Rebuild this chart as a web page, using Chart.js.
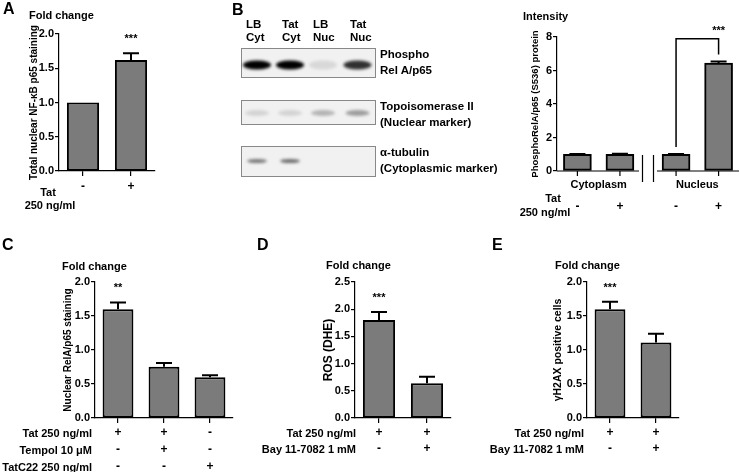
<!DOCTYPE html>
<html>
<head>
<meta charset="utf-8">
<script src="https://cdn.jsdelivr.net/npm/chart.js@4.4.1/dist/chart.umd.min.js"></script>
<style>
body{margin:0;width:740px;height:472px;background:#fff;position:relative;overflow:hidden;
  font-family:"Liberation Sans",Arial,Helvetica,sans-serif;font-weight:bold;color:#000}
canvas{position:absolute}
.t{position:absolute;white-space:nowrap;line-height:14px}
</style>
</head>
<body>
<script>
const FONT = '"Liberation Sans", Arial, Helvetica, sans-serif';
const GRAY = '#7b7b7b';

// A - total nuclear NF-kB p65
const aSigns = [['-', '+']];
const aValues = [1.0, 1.62];
const aErrors = [0, 0.1];
const aStars = ['', '***'];
const aTicks = [0, 0.5, 1.0, 1.5, 2.0];

// B - western blot
const blotLanes = [['LB', 'Cyt'], ['Tat', 'Cyt'], ['LB', 'Nuc'], ['Tat', 'Nuc']];
const blotNames = [['Phospho', 'Rel A/p65'], ['Topoisomerase II', '(Nuclear marker)'], ['\u03b1-tubulin', '(Cytoplasmic marker)']];
const blotBands = [[1.0, 1.0, 0.1, 0.8], [0.12, 0.12, 0.25, 0.35], [0.5, 0.55, 0, 0]];

// B - intensity
const bGroups = ['Cytoplasm', 'Cytoplasm', 'Nucleus', 'Nucleus'];
const bSigns = [['-', '+', '-', '+']];
const bValues = [1.0, 1.0, 1.0, 6.45];
const bErrors = [0.02, 0.03, 0.02, 0.08];
const bTicks = [0, 2, 4, 6, 8];
const bBracket = {from: 2, to: 3, left: 1.43, top: 7.9, right: 6.95, text: '***'};

// C
const cRows = ['Tat 250 ng/ml', 'Tempol 10 \u03bcM', 'TatC22 250 ng/ml'];
const cSigns = [['+', '+', '-'], ['-', '+', '-'], ['-', '-', '+']];
const cValues = [1.6, 0.755, 0.6];
const cErrors = [0.1, 0.055, 0.03];
const cStars = ['**', '', ''];
const cTicks = [0, 0.5, 1.0, 1.5, 2.0];

// D
const dRows = ['Tat 250 ng/ml', 'Bay 11-7082 1 mM'];
const dSigns = [['+', '+'], ['-', '+']];
const dValues = [1.8, 0.64];
const dErrors = [0.15, 0.12];
const dStars = ['***', ''];
const dTicks = [0, 0.5, 1.0, 1.5, 2.0, 2.5];

// E
const eRows = ['Tat 250 ng/ml', 'Bay 11-7082 1 mM'];
const eSigns = [['+', '+'], ['-', '+']];
const eValues = [1.6, 1.11];
const eErrors = [0.11, 0.13];
const eStars = ['***', ''];
const eTicks = [0, 0.5, 1.0, 1.5, 2.0];


function label(text, x, y, size, align) {
    const d = document.createElement('div');
    d.className = 't';
    d.textContent = text;
    d.style.fontSize = size + 'px';
    d.style.top = (y - 7) + 'px';
    if (align === 'right') {
        d.style.right = (740 - x) + 'px';
    } else if (align === 'center') {
        d.style.left = x + 'px';
        d.style.transform = 'translateX(-50%)';
    } else {
        d.style.left = x + 'px';
    }
    document.body.appendChild(d);
}

function makeCanvas(box) {
    const cv = document.createElement('canvas');
    cv.width = box.w;
    cv.height = box.h;
    cv.style.left = box.x + 'px';
    cv.style.top = box.y + 'px';
    document.body.appendChild(cv);
    return cv;
}

function yAxis(ticks, width, title, titleSize, fmt) {
    return {
        min: ticks[0],
        max: ticks[ticks.length - 1],
        afterBuildTicks: s => { s.ticks = ticks.map(v => ({value: v})); },
        afterFit: s => { s.width = width; },
        ticks: {color: '#000', font: {family: FONT, size: 11, weight: 'bold'}, padding: 1, callback: fmt},
        grid: {display: true, drawOnChartArea: false, drawTicks: true, tickLength: 4, color: '#000', lineWidth: 1.2},
        border: {display: true, color: '#000', width: 1.2},
        title: {display: true, text: title, color: '#000', padding: 0,
            font: {family: FONT, size: titleSize, weight: 'bold', lineHeight: 1.2}}
    };
}

// error bars, stars and +/- rows
const marks = {
    id: 'marks',
    afterDatasetsDraw(chart, args, o) {
        const ctx = chart.ctx;
        const y = chart.scales.y;
        const bars = chart.getDatasetMeta(0).data;
        ctx.save();
        ctx.strokeStyle = '#000';
        ctx.fillStyle = '#000';
        ctx.lineWidth = 2;
        ctx.textAlign = 'center';
        ctx.textBaseline = 'middle';
        bars.forEach((bar, i) => {
            const top = y.getPixelForValue(o.values[i] + o.errors[i]);
            if (o.errors[i] > 0) {
                ctx.beginPath();
                ctx.moveTo(bar.x, bar.y);
                ctx.lineTo(bar.x, top);
                ctx.moveTo(bar.x - 8, top);
                ctx.lineTo(bar.x + 8, top);
                ctx.stroke();
            }
            if (o.stars && o.stars[i]) {
                ctx.font = 'bold 11px ' + FONT;
                ctx.fillText(o.stars[i], bar.x, top - 14);
            }
        });
        ctx.font = 'bold 12px ' + FONT;
        o.signs.forEach((row, r) => {
            row.forEach((s, i) => ctx.fillText(s, bars[i].x, o.signY[r]));
        });
        ctx.restore();
    }
};

function barPanel(p) {
    const cv = makeCanvas(p.box);
    const axisLeft = p.titleX - p.titleSize * 1.2 / 2;
    return new Chart(cv, {
        type: 'bar',
        data: {
            labels: p.signs[0].map((s, i) => p.signs.map(r => r[i]).join(' ')),
            datasets: [{
                data: p.values,
                backgroundColor: GRAY,
                borderColor: '#000',
                borderWidth: 2,
                borderSkipped: false,
                barPercentage: 0.67,
                categoryPercentage: 1
            }]
        },
        options: {
            responsive: false,
            animation: false,
            devicePixelRatio: 1,
            layout: {padding: {left: axisLeft - p.box.x, top: p.plot.t - p.box.y, right: p.box.x + p.box.w - p.plot.r, bottom: 0}},
            plugins: {
                legend: {display: false},
                tooltip: {enabled: false},
                marks: {values: p.values, errors: p.errors, stars: p.stars, signs: p.signs,
                    signY: p.signY.map(v => v - p.box.y)}
            },
            scales: {
                x: {
                    afterFit: s => { s.height = p.box.y + p.box.h - p.plot.b; },
                    ticks: {display: false},
                    grid: {offset: false, drawOnChartArea: false, drawTicks: true, tickLength: 5, color: '#000', lineWidth: 1.2},
                    border: {color: '#000', width: 1.2}
                },
                y: yAxis(p.ticks, p.plot.l - axisLeft, p.title, p.titleSize, v => v.toFixed(1))
            }
        },
        plugins: [marks]
    });
}


// ---------- A ----------
barPanel({box: {x: 0, y: 0, w: 230, h: 230}, plot: {l: 59, t: 34, r: 155, b: 171},
    titleX: 34, titleSize: 10, title: 'Total nuclear NF-\u03baB p65 staining',
    values: aValues, errors: aErrors, stars: aStars, signs: aSigns, signY: [187], ticks: aTicks});
label('A', 3, 9, 16);
label('Fold change', 29, 15, 11);
label('Tat', 48, 192, 11, 'center');
label('250 ng/ml', 50, 205, 11, 'center');

// ---------- B blot ----------
(function () {
    const box = {x: 236, y: 44, w: 145, h: 136};
    const ctx = makeCanvas(box).getContext('2d');
    const laneX = [257, 290, 323, 357.5];
    const rowTop = [48, 100, 146];
    const rowH = [30, 25, 31];
    const bandY = [65, 113, 161];
    const bandH = [9, 6, 4];
    const bandW = [28, 24, 20];
    blotBands.forEach((row, r) => {
        ctx.fillStyle = '#f1f1f1';
        ctx.fillRect(241 - box.x, rowTop[r] - box.y, 135, rowH[r]);
        ctx.strokeStyle = '#888';
        ctx.lineWidth = 1;
        ctx.strokeRect(241.5 - box.x, rowTop[r] + 0.5 - box.y, 134, rowH[r] - 1);
        row.forEach((k, i) => {
            if (k <= 0) return;
            ctx.save();
            ctx.filter = 'blur(1.5px)';
            ctx.fillStyle = 'rgba(0,0,0,' + k + ')';
            ctx.beginPath();
            ctx.ellipse(laneX[i] - box.x, bandY[r] - box.y, bandW[r] / 2, bandH[r] / 2, 0, 0, Math.PI * 2);
            ctx.fill();
            ctx.restore();
        });
        label(blotNames[r][0], 380, rowTop[r] + 6, 11.5);
        label(blotNames[r][1], 380, rowTop[r] + 22, 11.5);
    });
    const laneLabelX = [246, 282, 313, 350];
    blotLanes.forEach((l, i) => {
        label(l[0], laneLabelX[i], 24, 11.5);
        label(l[1], laneLabelX[i], 37, 11.5);
    });
    label('B', 232, 10, 16);
})();

// ---------- B intensity ----------
const bPanel = {
    id: 'bPanel',
    afterDatasetsDraw(chart) {
        const ctx = chart.ctx;
        const y = chart.scales.y;
        const bars = chart.getDatasetMeta(0).data;
        const y0 = y.getPixelForValue(0);
        const area = chart.chartArea;
        const mid = (bars[1].x + bars[2].x) / 2;
        ctx.save();
        ctx.strokeStyle = '#000';
        ctx.fillStyle = '#000';
        // axis with break
        ctx.lineWidth = 1.2;
        ctx.beginPath();
        ctx.moveTo(area.left, y0); ctx.lineTo(mid - 9, y0);
        ctx.moveTo(mid + 9, y0); ctx.lineTo(area.right, y0);
        ctx.moveTo(mid - 5.5, y0 - 16); ctx.lineTo(mid - 5.5, y0 + 11);
        ctx.moveTo(mid + 5.5, y0 - 16); ctx.lineTo(mid + 5.5, y0 + 11);
        bars.forEach(b => { ctx.moveTo(b.x, y0); ctx.lineTo(b.x, y0 + 5); });
        ctx.stroke();
        // error bars
        ctx.lineWidth = 2;
        bars.forEach((b, i) => {
            const top = y.getPixelForValue(bValues[i] + bErrors[i]);
            ctx.beginPath();
            ctx.moveTo(b.x, b.y); ctx.lineTo(b.x, top);
            ctx.moveTo(b.x - 8, top); ctx.lineTo(b.x + 8, top);
            ctx.stroke();
        });
        // bracket
        const xl = bars[bBracket.from].x, xr = bars[bBracket.to].x;
        const yt = y.getPixelForValue(bBracket.top);
        ctx.lineWidth = 1.5;
        ctx.beginPath();
        ctx.moveTo(xl, y.getPixelForValue(bBracket.left));
        ctx.lineTo(xl, yt); ctx.lineTo(xr, yt);
        ctx.lineTo(xr, y.getPixelForValue(bBracket.right));
        ctx.stroke();
        ctx.textAlign = 'center';
        ctx.textBaseline = 'middle';
        ctx.font = 'bold 11px ' + FONT;
        ctx.fillText(bBracket.text, xr, yt - 8);
        // group names and signs
        const groups = [...new Set(bGroups)];
        groups.forEach(g => {
            const xs = bars.filter((b, i) => bGroups[i] === g).map(b => b.x);
            ctx.fillText(g, (Math.min(...xs) + Math.max(...xs)) / 2, 185);
        });
        ctx.font = 'bold 12px ' + FONT;
        bSigns.forEach((row, r) => row.forEach((s, i) => ctx.fillText(s, bars[i].x, 207 + r * 16)));
        ctx.restore();
    }
};

(function () {
    const box = {x: 500, y: 0, w: 240, h: 230};
    const titleX = 535, titleSize = 9.5;
    const axisLeft = titleX - titleSize * 1.2 / 2;
    const groups = [...new Set(bGroups)];
    const pos = bGroups.map((g, i) => i + groups.indexOf(g) * 0.32);
    new Chart(makeCanvas(box), {
        type: 'bar',
        data: {
            datasets: [{
                data: bValues.map((v, i) => ({x: pos[i], y: v})),
                backgroundColor: GRAY,
                borderColor: '#000',
                borderWidth: 2,
                borderSkipped: false,
                barThickness: 28
            }]
        },
        options: {
            responsive: false,
            animation: false,
            devicePixelRatio: 1,
            layout: {padding: {left: axisLeft - box.x, top: 37, right: 1, bottom: 59}},
            plugins: {legend: {display: false}, tooltip: {enabled: false}},
            scales: {
                x: {type: 'linear', display: false, offset: false, min: -0.48, max: 3.8},
                y: yAxis(bTicks, 557 - axisLeft, 'PhosphoRelA/p65 (S536) protein', titleSize, v => String(v))
            }
        },
        plugins: [bPanel]
    });
    label('Intensity', 523, 16, 11);
    label('Tat', 553, 198, 11, 'center');
    label('250 ng/ml', 545, 212, 11, 'center');
})();

// ---------- C ----------
barPanel({box: {x: 0, y: 230, w: 250, h: 242}, plot: {l: 95, t: 282, r: 233, b: 418},
    titleX: 68, titleSize: 10, title: 'Nuclear RelA/p65 staining',
    values: cValues, errors: cErrors, stars: cStars, signs: cSigns, signY: [433, 450, 467], ticks: cTicks});
label('C', 2, 245, 16);
label('Fold change', 62, 266, 11);
cRows.forEach((r, i) => label(r, 92, 433 + i * 17, 11, 'right'));

// ---------- D ----------
barPanel({box: {x: 250, y: 230, w: 240, h: 242}, plot: {l: 355, t: 282, r: 451, b: 418},
    titleX: 329, titleSize: 12, title: 'ROS (DHE)',
    values: dValues, errors: dErrors, stars: dStars, signs: dSigns, signY: [433, 449], ticks: dTicks});
label('D', 257, 245, 16);
label('Fold change', 326, 265, 11);
dRows.forEach((r, i) => label(r, 356, 433 + i * 16, 11, 'right'));

// ---------- E ----------
barPanel({box: {x: 490, y: 230, w: 250, h: 242}, plot: {l: 587, t: 282, r: 679, b: 418},
    titleX: 558, titleSize: 10.5, title: '\u03b3H2AX positive cells',
    values: eValues, errors: eErrors, stars: eStars, signs: eSigns, signY: [433, 449], ticks: eTicks});
label('E', 492, 245, 16);
label('Fold change', 555, 265, 11);
eRows.forEach((r, i) => label(r, 584, 433 + i * 16, 11, 'right'));
</script>
</body>
</html>
